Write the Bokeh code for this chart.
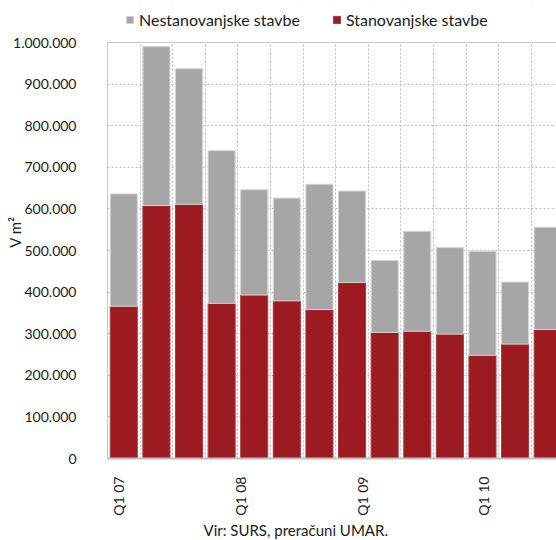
from math import pi
from bokeh.plotting import figure
from bokeh.models import (ColumnDataSource, FixedTicker, Legend, LegendItem, Title,
                          Range1d, BoxAnnotation, Span)
from bokeh.embed import file_html
from bokeh.resources import INLINE

# ---- data ----
quarters = ["Q1 07", "Q2 07", "Q3 07", "Q4 07",
            "Q1 08", "Q2 08", "Q3 08", "Q4 08",
            "Q1 09", "Q2 09", "Q3 09", "Q4 09",
            "Q1 10", "Q2 10"]
stanovanjske = [366000, 608000, 611000, 373000, 393000, 379000, 358000,
                423000, 303000, 306000, 299000, 248000, 275000, 310000]
nestanovanjske = [270000, 382000, 326000, 367000, 253000, 247000, 301000,
                  220000, 173000, 240000, 208000, 250000, 149000, 246000]
x_tick_labels = ["Q1 07", "Q1 08", "Q1 09", "Q1 10"]
y_ticks = [0, 100000, 200000, 300000, 400000, 500000, 600000, 700000, 800000, 900000, 1000000]
y_tick_labels = ["0", "100.000", "200.000", "300.000", "400.000", "500.000",
                 "600.000", "700.000", "800.000", "900.000", "1.000.000"]

FONT = "Lato"
RED = "#9C1B21"
GRAY = "#A6A6A6"
GRID = "#BDBDBD"
BORDER = "#C8C8C8"
TXT = "#1a1a1a"

# layout (pixels)
W, H = 556, 540
LEFT, TOP, BOTTOM = 107, 5, 82
AXIS_TOP_PX = 416            # pixel height of the 0 .. 1.000.000 span
frame_h = H - TOP - BOTTOM
y_max = y_ticks[-1]
y_end = y_max * frame_h / AXIS_TOP_PX

src = ColumnDataSource(dict(
    x=[i + 0.5 for i in range(len(quarters))],
    q=quarters,
    stan=stanovanjske,
    nestan=nestanovanjske,
))

p = figure(width=W, height=H, output_backend="svg", toolbar_location=None,
           x_range=Range1d(0, 13.77), y_range=Range1d(0, y_end),
           min_border_left=LEFT, min_border_right=0, min_border_top=TOP,
           min_border_bottom=BOTTOM)
p.outline_line_color = None

r = p.vbar_stack(["stan", "nestan"], x="x", width=0.83, source=src,
                 color=[RED, GRAY], line_color=["#A83A40", "#D4D4D4"], line_width=1)

# y axis
p.yaxis.ticker = FixedTicker(ticks=y_ticks)
p.yaxis.bounds = (0, y_max)
p.yaxis.major_label_overrides = {t: l for t, l in zip(y_ticks, y_tick_labels)}
p.yaxis.major_tick_line_color = None
p.yaxis.minor_tick_line_color = None
p.yaxis.axis_line_color = BORDER
p.yaxis.major_label_standoff = 25
p.yaxis.major_label_text_font = FONT
p.yaxis.major_label_text_font_size = "14px"
p.yaxis.major_label_text_color = TXT
p.yaxis.axis_label = "V m²"
p.yaxis.axis_label_standoff = -14
p.yaxis.axis_label_text_font = FONT
p.yaxis.axis_label_text_font_size = "15px"
p.yaxis.axis_label_text_font_style = "normal"
p.yaxis.axis_label_text_color = TXT

# x axis
x_tick_pos = [0.34, 4.08, 7.82, 11.53]
p.xaxis.ticker = FixedTicker(ticks=x_tick_pos)
p.xaxis.major_label_overrides = {t: l for t, l in zip(x_tick_pos, x_tick_labels)}
p.xaxis.major_label_orientation = pi / 2
p.xaxis.major_tick_line_color = None
p.xaxis.minor_tick_line_color = None
p.xaxis.axis_line_color = "#BFBFBF"
p.xaxis.axis_line_width = 2
p.xaxis.major_label_standoff = 12
p.xaxis.major_label_text_font = FONT
p.xaxis.major_label_text_font_size = "14px"
p.xaxis.major_label_text_color = TXT

# grids
p.ygrid.ticker = FixedTicker(ticks=y_ticks)
p.ygrid.grid_line_color = GRID
p.ygrid.grid_line_dash = "2 2"
p.xgrid.ticker = FixedTicker(ticks=list(range(1, len(quarters))))
p.xgrid.grid_line_color = GRID
p.xgrid.grid_line_dash = "2 2"

# blank band above the value axis top, and the top border line
p.add_layout(BoxAnnotation(bottom=y_max, fill_color="white", fill_alpha=1,
                           line_color=None, level="underlay"))
p.add_layout(Span(location=y_max, dimension="width", line_color=BORDER, line_width=1))

# legend (above the plotted area)
legend = Legend(items=[LegendItem(label="Nestanovanjske stavbe", renderers=[r[1]]),
                       LegendItem(label="Stanovanjske stavbe", renderers=[r[0]])],
                orientation="horizontal", location=(18, 429),
                glyph_width=9, glyph_height=9, label_standoff=5, spacing=32,
                padding=0, margin=0, border_line_color=None, background_fill_alpha=0,
                label_text_font=FONT, label_text_font_size="16px", label_text_color=TXT)
p.add_layout(legend)

# source note
p.add_layout(Title(text="Vir: SURS, preračuni UMAR.", align="left", offset=96, standoff=0,
                   text_font=FONT, text_font_size="15px", text_font_style="normal",
                   text_color=TXT), "below")

p.background_fill_color = "white"
p.border_fill_color = "white"

open("out.html", "w").write(file_html(p, INLINE))
